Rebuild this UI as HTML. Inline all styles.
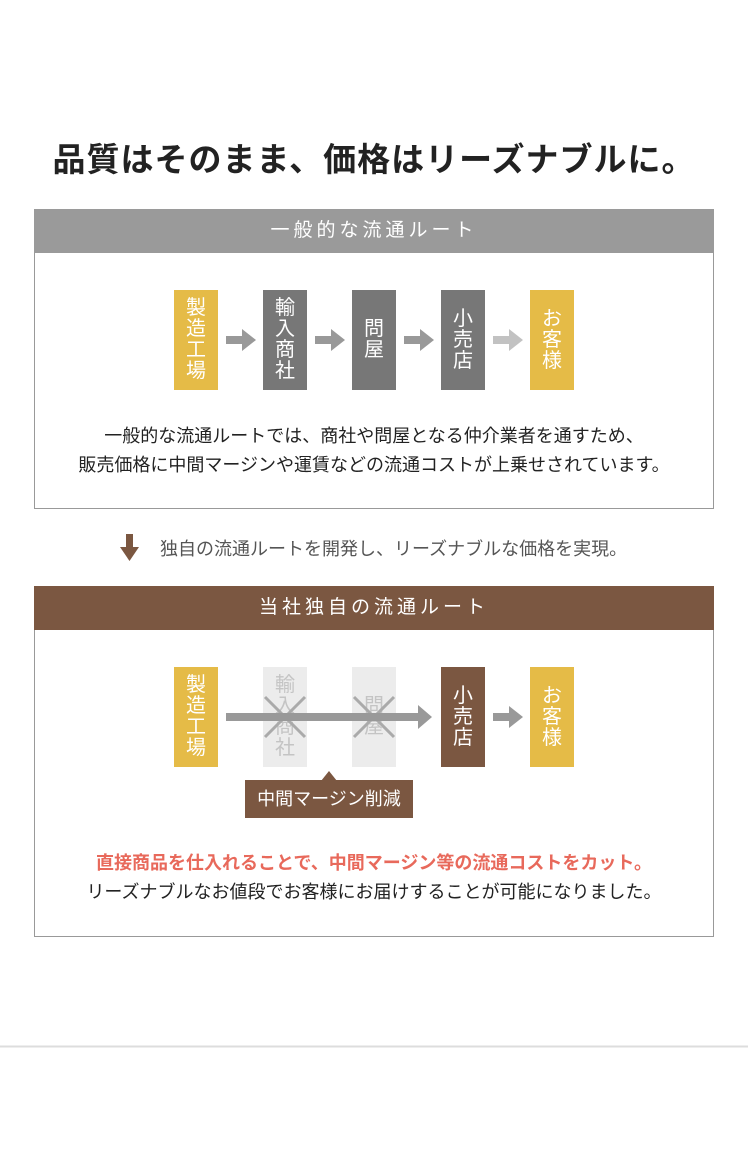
<!DOCTYPE html>
<html><head><meta charset="utf-8"><style>
*{margin:0;padding:0;box-sizing:border-box}
body{width:748px;height:1157px;background:#fff;position:relative;overflow:hidden;font-family:"Liberation Sans","Noto Sans CJK JP",sans-serif;color:#222}
.a{position:absolute}
.sec{position:absolute;left:34px;width:680px;border:1px solid #999;background:#fff}
.hd{height:44px;color:#fff;font-size:19px;letter-spacing:4px;text-align:center;line-height:44px}
.bx{position:absolute;width:44px;height:100px;color:#fff;font-size:20px;line-height:21px;display:flex;flex-direction:column;justify-content:center;align-items:center}
.y{background:#e5bb47}.g{background:#777}.b{background:#7b5741}.l{background:#ececec;color:#c4c4c4}
</style></head><body>
<div class="a" style="left:0;top:133px;width:748px;text-align:center;font-size:33px;font-weight:bold;letter-spacing:1px;color:#222">品質はそのまま、価格はリーズナブルに。</div>

<div class="sec" style="top:209px;height:300px">
 <div class="hd" style="background:#9a9a9a;margin:-1px -1px 0">一般的な流通ルート</div>
</div>
<div class="bx y" style="left:174px;top:290px"><span>製</span><span>造</span><span>工</span><span>場</span></div>
<div class="bx g" style="left:263px;top:290px"><span>輸</span><span>入</span><span>商</span><span>社</span></div>
<div class="bx g" style="left:352px;top:290px"><span>問</span><span>屋</span></div>
<div class="bx g" style="left:441px;top:290px"><span>小</span><span>売</span><span>店</span></div>
<div class="bx y" style="left:530px;top:290px"><span>お</span><span>客</span><span>様</span></div>
<svg class="a" style="left:0;top:0" width="748" height="1157">
 <g fill="#999"><path d="M226 336h16v-7l14 11-14 11v-7h-16z"/><path d="M315 336h16v-7l14 11-14 11v-7h-16z"/><path d="M404 336h16v-7l14 11-14 11v-7h-16z"/></g>
 <path d="M493 336h16v-7l14 11-14 11v-7h-16z" fill="#c2c2c2"/>
 <path d="M126 534h7v13h6l-9.5 14-9.5-14h6z" fill="#7b5741"/>
</svg>
<div class="a" style="left:0;top:422px;width:748px;text-align:center;font-size:18px;line-height:29px">一般的な流通ルートでは、商社や問屋となる仲介業者を通すため、<br>販売価格に中間マージンや運賃などの流通コストが上乗せされています。</div>
<div class="a" style="left:160px;top:535px;font-size:18px;color:#555">独自の流通ルートを開発し、リーズナブルな価格を実現。</div>

<div class="sec" style="top:586px;height:351px">
 <div class="hd" style="background:#7b5741;margin:-1px -1px 0">当社独自の流通ルート</div>
</div>
<div class="bx y" style="left:174px;top:667px"><span>製</span><span>造</span><span>工</span><span>場</span></div>
<div class="bx l" style="left:263px;top:667px"><span>輸</span><span>入</span><span>商</span><span>社</span></div>
<div class="bx l" style="left:352px;top:667px"><span>問</span><span>屋</span></div>
<div class="bx b" style="left:441px;top:667px"><span>小</span><span>売</span><span>店</span></div>
<div class="bx y" style="left:530px;top:667px"><span>お</span><span>客</span><span>様</span></div>
<svg class="a" style="left:0;top:0" width="748" height="1157">
 <g stroke="#aaa" stroke-width="3"><path d="M265 697l40 40M305 697l-40 40M354 697l40 40M394 697l-40 40"/></g>
 <path d="M226 713h192v-8l14 12-14 12v-8h-192z" fill="#999"/>
 <path d="M493 713h16v-7l14 11-14 11v-7h-16z" fill="#999"/>
 <rect x="245" y="780" width="168" height="38" fill="#7b5741"/>
 <path d="M321 781l8-10 8 10z" fill="#7b5741"/>
 <line x1="0" y1="1046.5" x2="748" y2="1046.5" stroke="#ddd" stroke-width="2"/>
</svg>
<div class="a" style="left:245px;top:780px;width:168px;height:38px;line-height:38px;text-align:center;color:#fff;font-size:18px">中間マージン削減</div>
<div class="a" style="left:0;top:849px;width:748px;text-align:center;font-size:18px;line-height:29px"><b style="color:#e8695b">直接商品を仕入れることで、中間マージン等の流通コストをカット。</b><br>リーズナブルなお値段でお客様にお届けすることが可能になりました。</div>
</body></html>
